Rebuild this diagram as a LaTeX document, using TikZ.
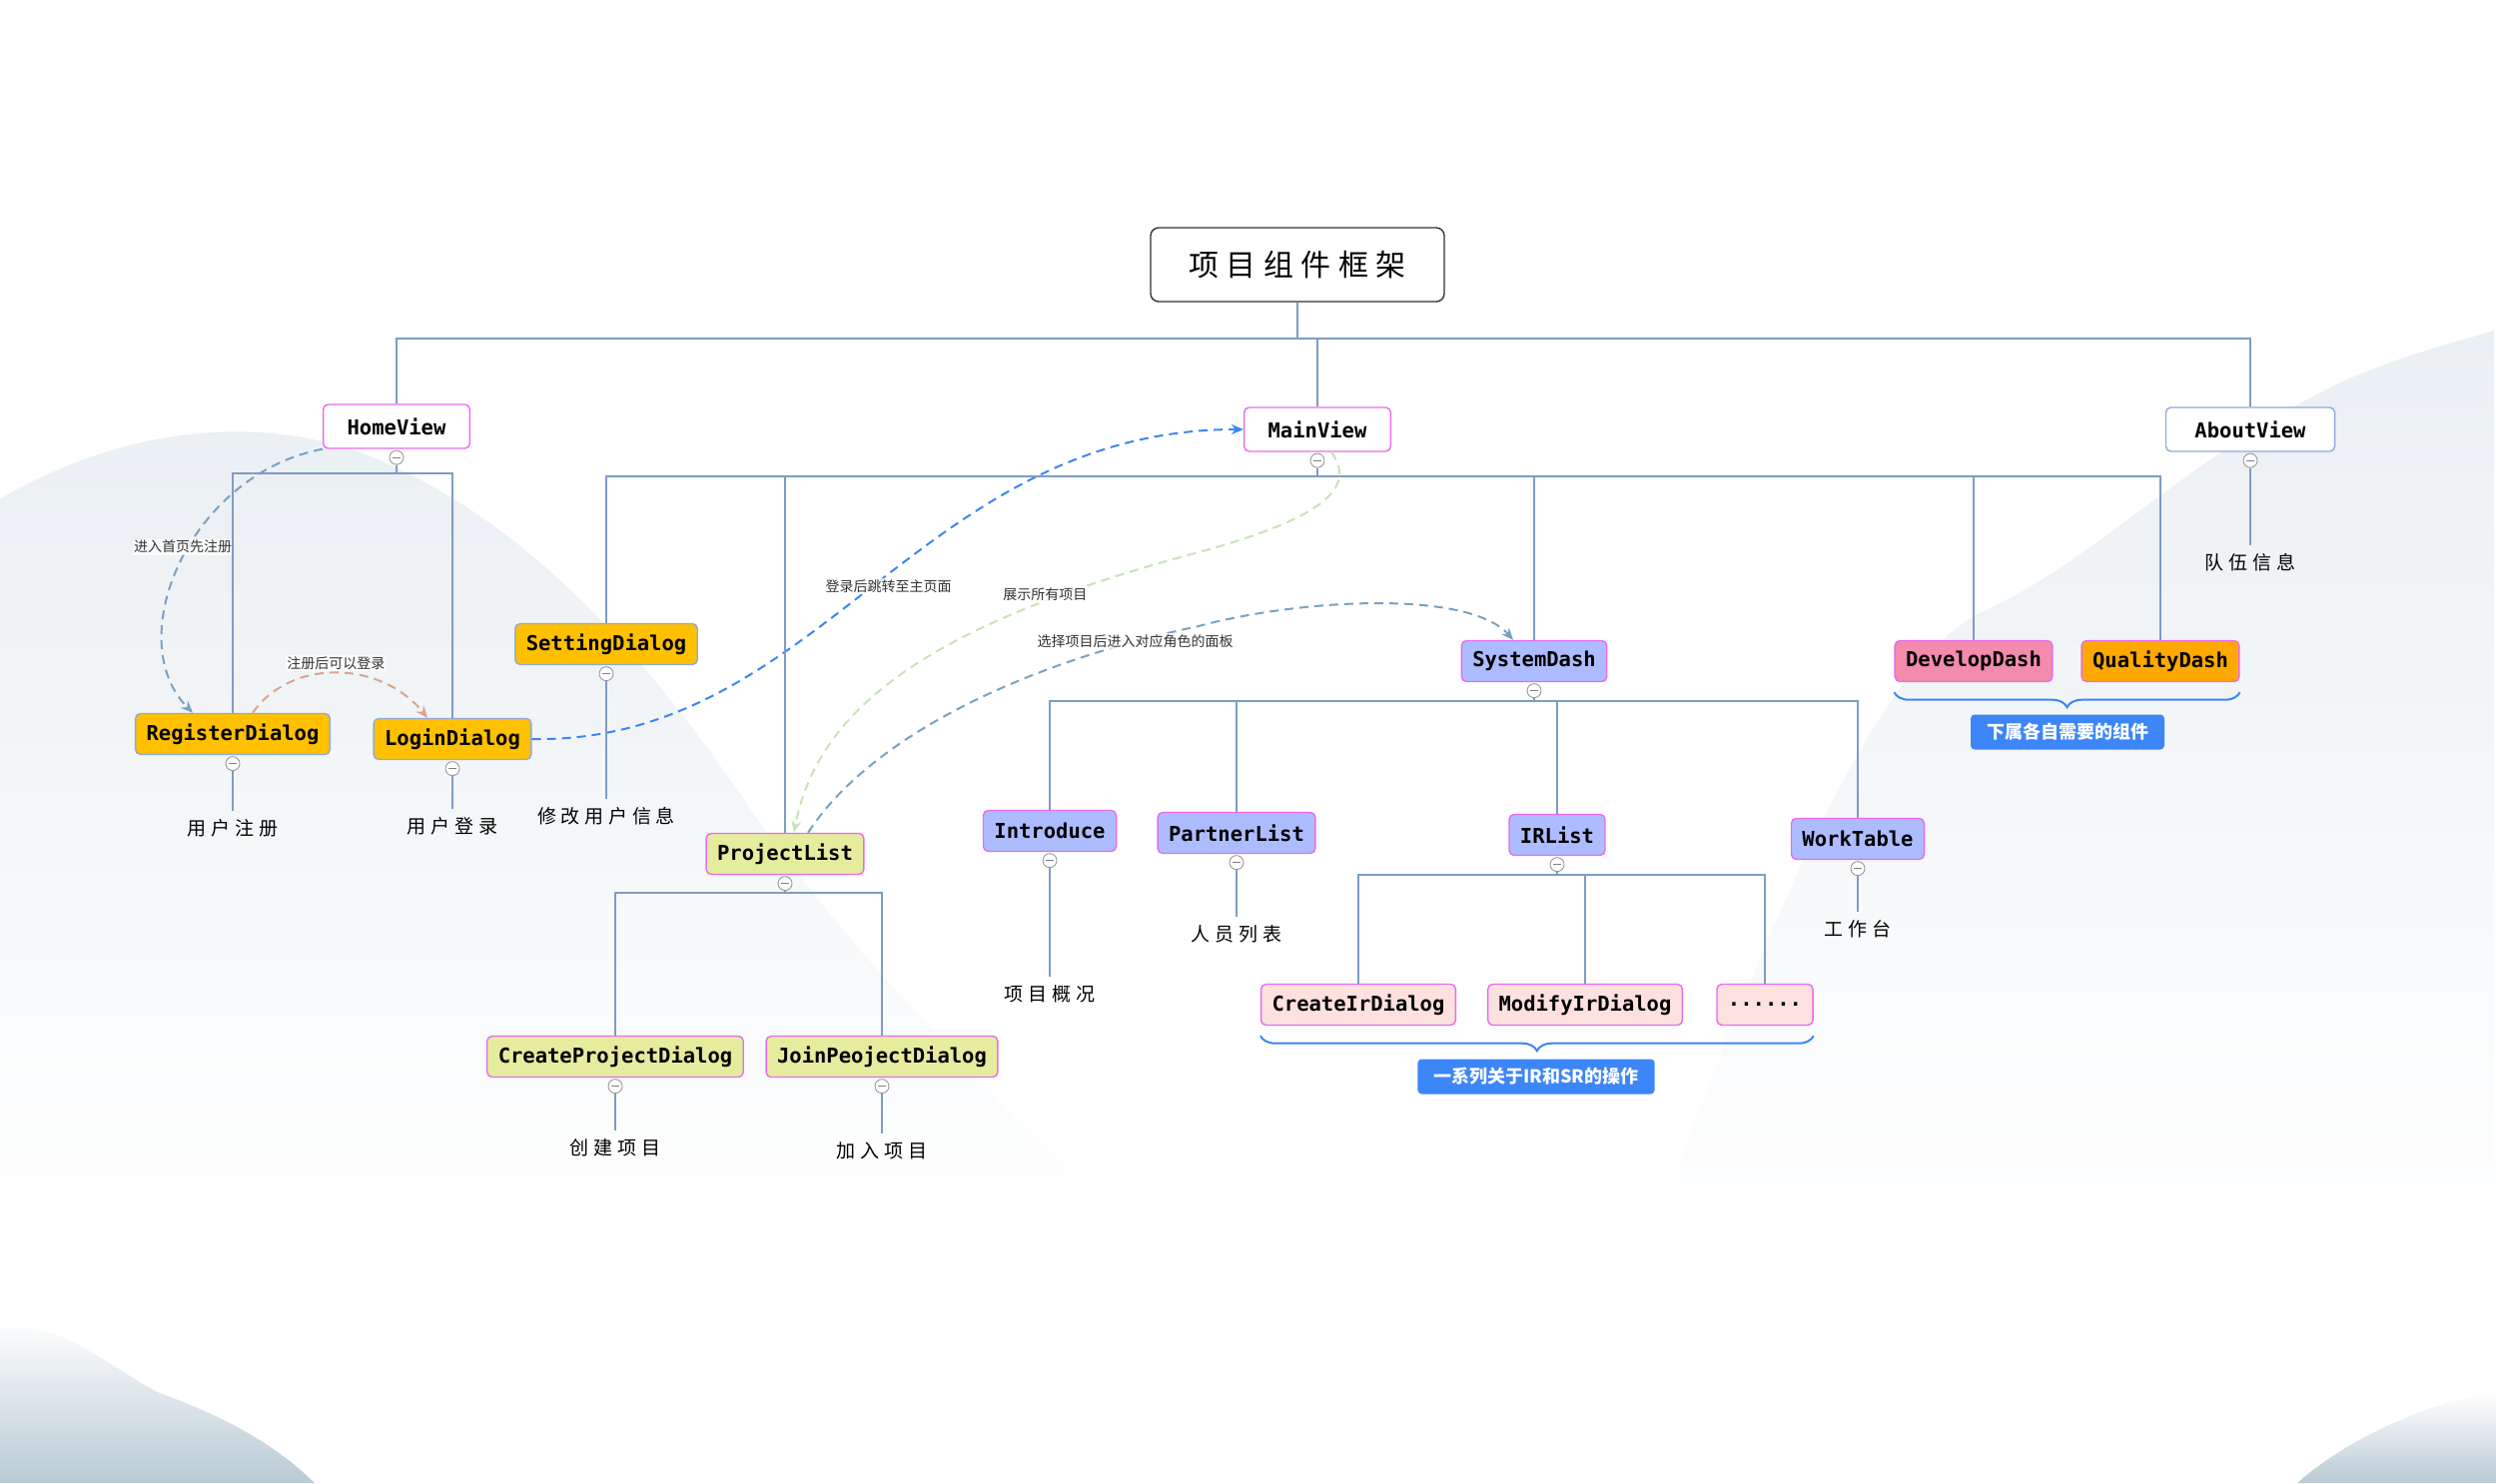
\documentclass[tikz,border=0pt]{standalone}
\usepackage{fontspec}
\newfontfamily\monofont{DejaVu Sans Mono}
\newfontfamily\cjkfont{Noto Sans CJK SC}
\newfontfamily\cjkwide[LetterSpace=25]{Noto Sans CJK SC}
\usetikzlibrary{positioning,arrows.meta,decorations.pathreplacing,fadings}

\definecolor{rootgray}{HTML}{333333}
\definecolor{viewpink}{HTML}{E86AF0}
\definecolor{dlgblue}{HTML}{8EA9DB}
\definecolor{amber}{HTML}{FFC000}
\definecolor{limefill}{HTML}{E6EC9E}
\definecolor{perifill}{HTML}{ADBCFF}
\definecolor{devpink}{HTML}{F28BAE}
\definecolor{qorange}{HTML}{FFA800}
\definecolor{irpink}{HTML}{FCE1DE}
\definecolor{linec}{HTML}{7E9CC5}
\definecolor{tagblue}{HTML}{3C86F7}
\definecolor{flowblue}{HTML}{3D85F5}
\definecolor{flowsteel}{HTML}{78A2C4}
\definecolor{flowsalmon}{HTML}{DCA48F}
\definecolor{flowgreen}{HTML}{C8E3B8}
\definecolor{lblgray}{HTML}{333333}
\definecolor{mist}{HTML}{EAEFF3}
\definecolor{treegray}{HTML}{B9CAD4}

\begin{document}
\begin{tikzpicture}[x=1pt, y=-1pt,
  rootbox/.style={draw=rootgray, fill=white, rounded corners=8pt, line width=1.4pt,
    minimum width=294pt, minimum height=74pt, font=\cjkwide\fontsize{30}{36}\selectfont},
  box/.style={draw=viewpink, rounded corners=5pt, line width=1.4pt, inner xsep=11pt,
    inner ysep=0pt, minimum height=41pt, font=\monofont\bfseries\fontsize{20.5}{24}\selectfont},
  view/.style={box, fill=white, inner xsep=24pt, minimum height=44pt},
  dlg/.style={box, fill=amber, draw=dlgblue},
  projbox/.style={box, fill=limefill},
  dashbox/.style={box, fill=perifill},
  irbox/.style={box, fill=irpink},
  tog/.style={circle, draw=gray!80, fill=white, line width=0.9pt, minimum size=14pt, inner sep=0pt,
    path picture={\draw[gray, line width=1pt] ([xshift=-4pt]path picture bounding box.center)
      -- ([xshift=4pt]path picture bounding box.center);}},
  note/.style={font=\cjkwide\fontsize{19}{22}\selectfont, inner sep=8pt},
  tag/.style={fill=tagblue, rounded corners=4pt, text=white, minimum height=35pt, inner xsep=16pt,
    font=\cjkfont\bfseries\fontsize{18}{20}\selectfont},
  tree/.style={draw=linec, line width=2pt},
  flow/.style={dash pattern=on 9pt off 6pt, line width=2pt, -{Stealth[length=12pt, width=10pt]}},
  elbl/.style={font=\cjkfont\fontsize{14}{16}\selectfont, text=lblgray, fill=white, fill opacity=.75,
    text opacity=1, inner sep=1.5pt},
  brace/.style={draw=tagblue, line width=2pt, decorate, decoration={brace, mirror, amplitude=15pt}}]

  \useasboundingbox (0,0) rectangle (2499,1485);

  % ink-wash background
  \fill[mist, path fading=south] (0,500) .. controls (120,430) and (260,410) .. (380,460) .. controls (520,520) and (640,640) .. (760,820)
    .. controls (860,960) and (980,1080) .. (1150,1250) -- (0,1250) -- cycle;
  \fill[mist, path fading=south] (1650,1250) .. controls (1780,900) and (1880,660) .. (1990,610) .. controls (2100,560) and (2200,450) .. (2350,380)
    .. controls (2420,350) and (2470,340) .. (2499,330) -- (2499,1250) -- cycle;
  \fill[treegray, path fading=north] (0,1330) .. controls (60,1320) and (110,1370) .. (160,1395) .. controls (230,1420) and (280,1450) .. (315,1485)
    -- (0,1485) -- cycle;
  \fill[treegray, path fading=north] (2499,1395) .. controls (2440,1400) and (2350,1440) .. (2300,1485) -- (2499,1485) -- cycle;

  % top level
  \node[rootbox] (root) at (1299,265) {项目组件框架};
  \node[view] (home) at (397,427) {HomeView};
  \node[view] (main) at (1319,430) {MainView};
  \node[view, draw=dlgblue, inner xsep=29pt] (about) at (2253,430) {AboutView};

  % home branch
  \node[dlg] (reg) at (233,735) {RegisterDialog};
  \node[dlg] (login) at (453,740) {LoginDialog};

  % main branch
  \node[dlg] (setting) at (607,645) {SettingDialog};
  \node[projbox] (proj) at (786,855) {ProjectList};
  \node[dashbox] (sysdash) at (1536,662) {SystemDash};
  \node[box, fill=devpink] (dev) at (1976,662) {DevelopDash};
  \node[box, fill=qorange] (qual) at (2163,662) {QualityDash};
  \node[projbox] (createProj) at (616,1058) {CreateProjectDialog};
  \node[projbox] (joinProj) at (883,1058) {JoinPeojectDialog};
  \node[dashbox] (intro) at (1051,832) {Introduce};
  \node[dashbox] (partner) at (1238,834) {PartnerList};
  \node[dashbox] (irlist) at (1559,836) {IRList};
  \node[dashbox] (worktable) at (1860,840) {WorkTable};
  \node[irbox] (createIr) at (1360,1006) {CreateIrDialog};
  \node[irbox] (modifyIr) at (1587,1006) {ModifyIrDialog};
  \node[irbox] (more) at (1767,1006) {......};

  % fold toggles
  \node[tog, below=1pt of home] (homeTg) {};
  \node[tog, below=1pt of main] (mainTg) {};
  \node[tog, below=1pt of about] (aboutTg) {};
  \node[tog, below=1pt of reg] (regTg) {};
  \node[tog, below=1pt of login] (loginTg) {};
  \node[tog, below=1pt of setting] (settingTg) {};
  \node[tog, below=1pt of proj] (projTg) {};
  \node[tog, below=1pt of sysdash] (sysTg) {};
  \node[tog, below=1pt of createProj] (createTg) {};
  \node[tog, below=1pt of joinProj] (joinTg) {};
  \node[tog, below=1pt of intro] (introTg) {};
  \node[tog, below=1pt of partner] (partnerTg) {};
  \node[tog, below=1pt of irlist] (irTg) {};
  \node[tog, below=1pt of worktable] (workTg) {};

  % leaf notes
  \node[note] (regNote) at (233,829) {用户注册};
  \node[note] (loginNote) at (453,827) {用户登录};
  \node[note] (settingNote) at (607,817) {修改用户信息};
  \node[note] (createNote) at (616,1149) {创建项目};
  \node[note] (joinNote) at (883,1152) {加入项目};
  \node[note] (introNote) at (1051,995) {项目概况};
  \node[note] (partnerNote) at (1238,935) {人员列表};
  \node[note] (workNote) at (1860,930) {工作台};
  \node[note] (aboutNote) at (2253,563) {队伍信息};

  % group tags
  \node[tag] (subTag) at (2070,733) {下属各自需要的组件};
  \node[tag] (irTag) at (1538,1078) {一系列关于IR和SR的操作};
  \draw[brace] ([yshift=-10pt]dev.south west) -- ([yshift=-10pt]qual.south east);
  \draw[brace] ([yshift=-10pt]createIr.south west) -- ([yshift=-10pt]more.south east);

  % page flow
  \draw[flow, flowsteel] (home.south west) .. controls (190,475) and (120,640) .. ([xshift=-40pt]reg.north)
    node[elbl, pos=.45, xshift=-6pt] {进入首页先注册};
  \draw[flow, flowsalmon] ([xshift=20pt]reg.north) .. controls (290,660) and (380,660) .. ([xshift=-25pt]login.north)
    node[elbl, pos=.5, yshift=10pt] {注册后可以登录};
  \draw[flow, flowblue] (login.east) .. controls (820,745) and (920,430) .. (main.west)
    node[elbl, pos=.5, xshift=15pt] {登录后跳转至主页面};
  \draw[flow, flowgreen] ([xshift=14pt]main.south) .. controls (1360,490) and (1320,520) .. (1200,553)
    .. controls (950,620) and (820,700) .. ([xshift=9pt]proj.north) node[elbl, pos=.23, yshift=7pt] {展示所有项目};
  \draw[flow, flowsteel] ([xshift=23pt]proj.north) .. controls (870,740) and (1020,665) .. (1200,627)
    node[elbl, pos=.88] {选择项目后进入对应角色的面板}
    .. controls (1300,600) and (1470,590) .. ([xshift=-21pt]sysdash.north);

  % tree
  \draw[tree] (root.south) -- ++(0,36) -| (home.north);
  \draw[tree] (root.south) -- ++(0,36) -| (main.north);
  \draw[tree] (root.south) -- ++(0,36) -| (about.north);
  \draw[tree] (homeTg.south) -- ++(0,8) -| (reg.north);
  \draw[tree] (homeTg.south) -- ++(0,8) -| (login.north);
  \draw[tree] (mainTg.south) -- ++(0,8) -| (setting.north);
  \draw[tree] (mainTg.south) -- ++(0,8) -| (proj.north);
  \draw[tree] (mainTg.south) -- ++(0,8) -| (sysdash.north);
  \draw[tree] (mainTg.south) -- ++(0,8) -| (dev.north);
  \draw[tree] (mainTg.south) -- ++(0,8) -| (qual.north);
  \draw[tree] (projTg.south) -- ++(0,2) -| (createProj.north);
  \draw[tree] (projTg.south) -- ++(0,2) -| (joinProj.north);
  \draw[tree] (sysTg.south) -- ++(0,3) -| (intro.north);
  \draw[tree] (sysTg.south) -- ++(0,3) -| (partner.north);
  \draw[tree] (sysTg.south) -- ++(0,3) -| (irlist.north);
  \draw[tree] (sysTg.south) -- ++(0,3) -| (worktable.north);
  \draw[tree] (irTg.south) -- ++(0,3) -| (createIr.north);
  \draw[tree] (irTg.south) -- ++(0,3) -| (modifyIr.north);
  \draw[tree] (irTg.south) -- ++(0,3) -| (more.north);
  \draw[tree] (aboutTg.south) -- (aboutNote.north);
  \draw[tree] (regTg.south) -- (regNote.north);
  \draw[tree] (loginTg.south) -- (loginNote.north);
  \draw[tree] (settingTg.south) -- (settingNote.north);
  \draw[tree] (createTg.south) -- (createNote.north);
  \draw[tree] (joinTg.south) -- (joinNote.north);
  \draw[tree] (introTg.south) -- (introNote.north);
  \draw[tree] (partnerTg.south) -- (partnerNote.north);
  \draw[tree] (workTg.south) -- (workNote.north);
\end{tikzpicture}
\end{document}
